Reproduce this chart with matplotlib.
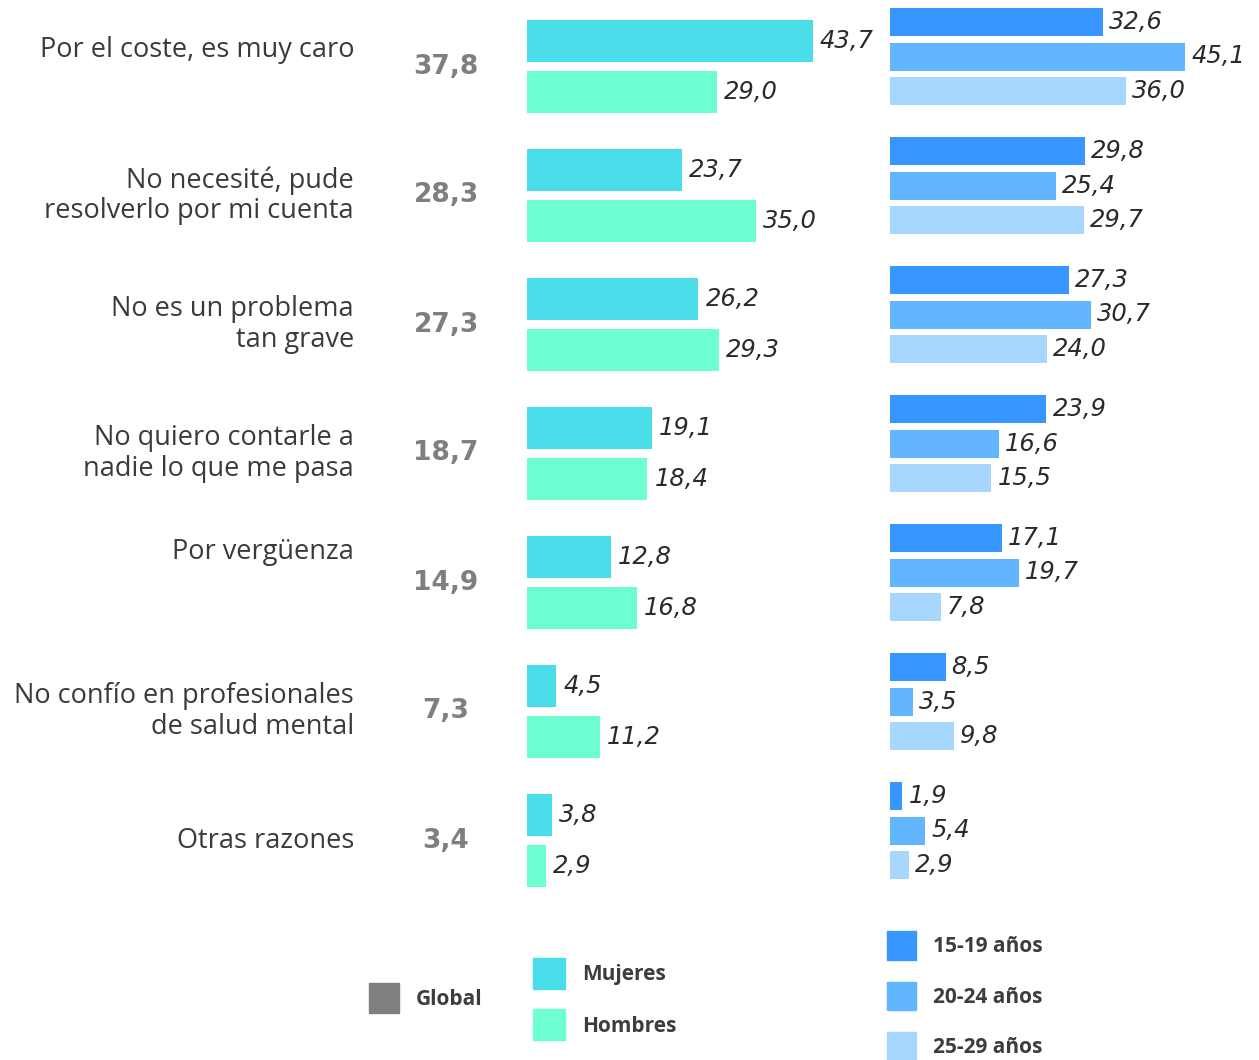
import matplotlib
matplotlib.use("Agg")
import matplotlib.pyplot as plt
from matplotlib.patches import Patch

# data
categories = ["Por el coste, es muy caro",
              "No necesité, pude\nresolverlo por mi cuenta",
              "No es un problema\ntan grave",
              "No quiero contarle a\nnadie lo que me pasa",
              "Por vergüenza",
              "No confío en profesionales\nde salud mental",
              "Otras razones"]
global_vals = [37.8, 28.3, 27.3, 18.7, 14.9, 7.3, 3.4]
mujeres = [43.7, 23.7, 26.2, 19.1, 12.8, 4.5, 3.8]
hombres = [29.0, 35.0, 29.3, 18.4, 16.8, 11.2, 2.9]
edad_15_19 = [32.6, 29.8, 27.3, 23.9, 17.1, 8.5, 1.9]
edad_20_24 = [45.1, 25.4, 30.7, 16.6, 19.7, 3.5, 5.4]
edad_25_29 = [36.0, 29.7, 24.0, 15.5, 7.8, 9.8, 2.9]

c_global = "#7f7f7f"
c_muj = "#48dde9"
c_hom = "#6dffd1"
c_age = ["#3796ff", "#62b6ff", "#a7d6ff"]
c_text = "#3a3a3a"

# layout (pixels, from top)
W, H = 1259, 1060
step = 129
px_per_unit = 6.545
label_dy = [-17, 0, 0, 0, -30, 0, 0]

plt.rcParams['font.family'] = ['Open Sans', 'DejaVu Sans']

fig = plt.figure(figsize=(W / 100, H / 100), dpi=100)

def fmt(v):
    return f"{v:.1f}".replace(".", ",")

val_kw = dict(va="center", ha="left", fontsize=17.5, style="italic",
              family="DejaVu Sans", color="#2a2a2a", annotation_clip=False)

xmax = 60
ax1 = fig.add_axes([527 / W, 0, px_per_unit * xmax / W, 1])
ax2 = fig.add_axes([890 / W, 0, px_per_unit * xmax / W, 1])
for ax in (ax1, ax2):
    ax.set_xlim(0, xmax)
    ax.set_ylim(H, 0)
    ax.axis("off")

for i in range(len(categories)):
    g0 = 41 + i * step
    ym, yh = g0, g0 + 51
    ax1.barh(ym, mujeres[i], height=42, color=c_muj)
    ax1.barh(yh, hombres[i], height=42, color=c_hom)
    for y, v in ((ym, mujeres[i]), (yh, hombres[i])):
        ax1.annotate(fmt(v), (v, y), xytext=(7, 0), textcoords="offset pixels", **val_kw)
    yc = (ym + yh) / 2
    ax1.annotate(fmt(global_vals[i]), (0, yc), xytext=(-81, 0), textcoords="offset pixels",
                 va="center", ha="center", fontsize=19, fontweight="bold",
                 family="DejaVu Sans", color=c_global, annotation_clip=False)
    ax1.annotate(categories[i], (0, yc + label_dy[i]), xytext=(-173, 0),
                 textcoords="offset pixels", va="center", ha="right",
                 fontsize=19.5, color=c_text, linespacing=1.1,
                 annotation_clip=False)

    a0 = 22 + i * step
    for k, vals in enumerate((edad_15_19, edad_20_24, edad_25_29)):
        y = a0 + k * 34.5
        ax2.barh(y, vals[i], height=28, color=c_age[k])
        ax2.annotate(fmt(vals[i]), (vals[i], y), xytext=(6, 0), textcoords="offset pixels",
                     **val_kw)

# legends
leg_kw = dict(frameon=False, prop={"weight": "bold", "size": 15},
              labelcolor="#3d3d3d", handletextpad=0.8, borderpad=0, borderaxespad=0)
fig.legend(handles=[Patch(color=c_global, label="Global")],
           loc="center left", bbox_to_anchor=(369 / W, 1 - 998 / H),
           handlelength=1.45, handleheight=1.8, **leg_kw)
fig.legend(handles=[Patch(color=c_muj, label="Mujeres"), Patch(color=c_hom, label="Hombres")],
           loc="center left", bbox_to_anchor=(533 / W, 1 - 999 / H),
           handlelength=1.55, handleheight=1.9, labelspacing=1.0, **leg_kw)
fig.legend(handles=[Patch(color=c, label=l) for c, l in
                    zip(c_age, ["15-19 años", "20-24 años", "25-29 años"])],
           loc="center left", bbox_to_anchor=(887 / W, 1 - 996 / H),
           handlelength=1.4, handleheight=1.75, labelspacing=1.05, **leg_kw)

fig.savefig("out.png", dpi=100)
